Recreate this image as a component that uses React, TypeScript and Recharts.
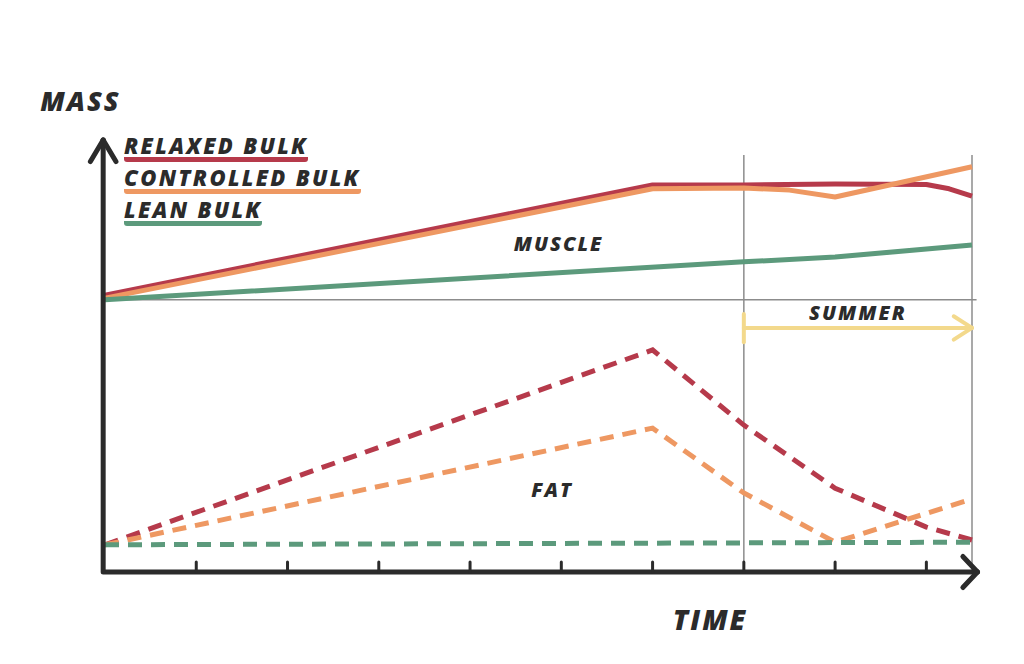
import React from "react";
import { LineChart, Line, XAxis, YAxis, ReferenceLine, ReferenceDot, Legend } from "recharts";

// time steps (x) and mass values (y, 0..100)
const steps = [0, 6, 7, 7.5, 8, 9, 9.25, 9.5];
const relaxedMuscle = [64.1, 89.6, 89.6, null, 89.8, 89.7, 88.7, 87.0];
const controlledMuscle = [63.4, 88.7, 88.9, 88.4, 86.8, null, null, 93.8];
const leanMuscle = [63.0, null, 71.8, null, 72.9, null, null, 75.7];
const relaxedFat = [6.3, 51.4, 34.0, null, 19.4, 10.4, null, 7.4];
const controlledFat = [6.3, 33.3, 18.3, null, 6.9, null, null, 16.9];
const leanFat = [6.3, null, null, null, null, null, null, 6.9];

const timeTicks = [1, 2, 3, 4, 5, 6, 7, 8, 9];
const summerStart = 7;
const timeEnd = 9.5;
const divider = 63;

const RED = "#b63a4b";
const ORANGE = "#ee9862";
const GREEN = "#5c9a7c";
const YELLOW = "#f3d98c";
const INK = "#2b2b2b";
const GRID = "#8c8c8c";

const FONT = "'Open Sans', sans-serif";

const series = [
  { name: "RELAXED BULK", muscle: "relaxedMuscle", fat: "relaxedFat", color: RED },
  { name: "CONTROLLED BULK", muscle: "controlledMuscle", fat: "controlledFat", color: ORANGE },
  { name: "LEAN BULK", muscle: "leanMuscle", fat: "leanFat", color: GREEN },
];

const data = steps.map((t, i) => ({
  t,
  relaxedMuscle: relaxedMuscle[i],
  controlledMuscle: controlledMuscle[i],
  leanMuscle: leanMuscle[i],
  relaxedFat: relaxedFat[i],
  controlledFat: controlledFat[i],
  leanFat: leanFat[i],
}));

const TEXT_STYLE = {
  fontFamily: FONT,
  fontWeight: 800,
  fontStyle: "italic",
  fill: INK,
  letterSpacing: 2,
} as const;

function SketchLegend() {
  return (
    <div style={{ fontFamily: FONT, fontWeight: 800, fontStyle: "italic", color: INK }}>
      {series.map((s) => (
        <div key={s.name} style={{ height: 32 }}>
          <span
            style={{
              display: "inline-block",
              fontSize: 22,
              letterSpacing: 2.3,
              lineHeight: "22px",
              paddingBottom: 1,
              borderBottom: `5px solid ${s.color}`,
              borderRadius: 3,
            }}
          >
            {s.name}
          </span>
        </div>
      ))}
    </div>
  );
}

function CenterLabel({ viewBox, value, size }: any) {
  if (!viewBox) return null;
  return (
    <text x={viewBox.x} y={viewBox.y} dy={size * 0.36} textAnchor="middle" fontSize={size} style={TEXT_STYLE}>
      {value}
    </text>
  );
}

// thick marker stroke between two data points
function Stroke({ a, b, color = INK, width = 5 }: any) {
  return (
    <ReferenceLine
      segment={[a, b]}
      stroke={color}
      strokeWidth={width}
      strokeLinecap="round"
      ifOverflow="visible"
    />
  );
}

export default function App() {
  return (
    <div style={{ position: "absolute", left: 0, top: 0, width: 1024, height: 664, background: "#fff" }}>
      <LineChart
        width={1024}
        height={664}
        data={data}
        margin={{ top: 140, right: 52, bottom: 92, left: 105 }}
      >
        <XAxis dataKey="t" type="number" domain={[0, timeEnd]} hide />
        <YAxis type="number" domain={[0, 100]} hide />

        {/* guides */}
        <ReferenceLine
          segment={[{ x: 0, y: divider }, { x: 9.55, y: divider }]}
          stroke={GRID}
          strokeWidth={1.5}
          ifOverflow="visible"
        />
        <ReferenceLine
          segment={[{ x: summerStart, y: 0 }, { x: summerStart, y: 96.5 }]}
          stroke={GRID}
          strokeWidth={1.5}
          ifOverflow="visible"
        />
        <ReferenceLine
          segment={[{ x: timeEnd, y: 0 }, { x: timeEnd, y: 96.5 }]}
          stroke={GRID}
          strokeWidth={1.5}
          ifOverflow="visible"
        />

        {/* summer arrow */}
        <ReferenceLine
          segment={[{ x: summerStart, y: 56.5 }, { x: timeEnd, y: 56.5 }]}
          stroke={YELLOW}
          strokeWidth={4}
          strokeLinecap="round"
          ifOverflow="visible"
          label={{ value: "SUMMER", position: "top", offset: 8, fontSize: 20, style: TEXT_STYLE }}
        />
        {Stroke({ a: { x: summerStart, y: 53.2 }, b: { x: summerStart, y: 59.7 }, color: YELLOW, width: 4 })}
        {Stroke({ a: { x: 9.3, y: 59.2 }, b: { x: timeEnd, y: 56.5 }, color: YELLOW, width: 4 })}
        {Stroke({ a: { x: 9.3, y: 53.8 }, b: { x: timeEnd, y: 56.5 }, color: YELLOW, width: 4 })}

        {series.map((s) => (
          <Line
            key={s.muscle}
            type="linear"
            dataKey={s.muscle}
            name={s.name}
            stroke={s.color}
            strokeWidth={5}
            dot={false}
            connectNulls
            strokeLinejoin="round"
            isAnimationActive={false}
          />
        ))}
        {series.map((s) => (
          <Line
            key={s.fat}
            type="linear"
            dataKey={s.fat}
            name={s.name}
            stroke={s.color}
            strokeWidth={5}
            strokeDasharray="14 9"
            dot={false}
            connectNulls
            legendType="none"
            isAnimationActive={false}
          />
        ))}

        {/* axes, drawn as thick marker strokes */}
        {Stroke({ a: { x: 0, y: 0 }, b: { x: 9.56, y: 0 } })}
        {Stroke({ a: { x: -0.02, y: 0 }, b: { x: -0.02, y: 100 } })}
        {Stroke({ a: { x: 9.4, y: 3.6 }, b: { x: 9.56, y: 0 } })}
        {Stroke({ a: { x: 9.4, y: -3.6 }, b: { x: 9.56, y: 0 } })}
        {Stroke({ a: { x: -0.16, y: 95 }, b: { x: -0.02, y: 100 } })}
        {Stroke({ a: { x: 0.12, y: 95 }, b: { x: -0.02, y: 100 } })}
        {timeTicks.map((t) => (
          <ReferenceLine
            key={t}
            segment={[{ x: t, y: 0 }, { x: t, y: 2.3 }]}
            stroke={INK}
            strokeWidth={3}
            strokeLinecap="round"
            ifOverflow="visible"
          />
        ))}

        {/* annotations */}
        <ReferenceDot x={4.97} y={76} r={0} fill="none" stroke="none" ifOverflow="visible"
          label={<CenterLabel value="MUSCLE" size={20} />} />
        <ReferenceDot x={4.9} y={19} r={0} fill="none" stroke="none" ifOverflow="visible"
          label={<CenterLabel value="FAT" size={20} />} />
        <ReferenceDot x={-0.27} y={109} r={0} fill="none" stroke="none" ifOverflow="visible"
          label={<CenterLabel value="MASS" size={27} />} />
        <ReferenceDot x={6.63} y={-11} r={0} fill="none" stroke="none" ifOverflow="visible"
          label={<CenterLabel value="TIME" size={28} />} />

        <Legend
          layout="vertical"
          align="center"
          verticalAlign="middle"
          content={<SketchLegend />}
          wrapperStyle={{ left: 124, top: 134, width: "auto" }}
        />
      </LineChart>
    </div>
  );
}
